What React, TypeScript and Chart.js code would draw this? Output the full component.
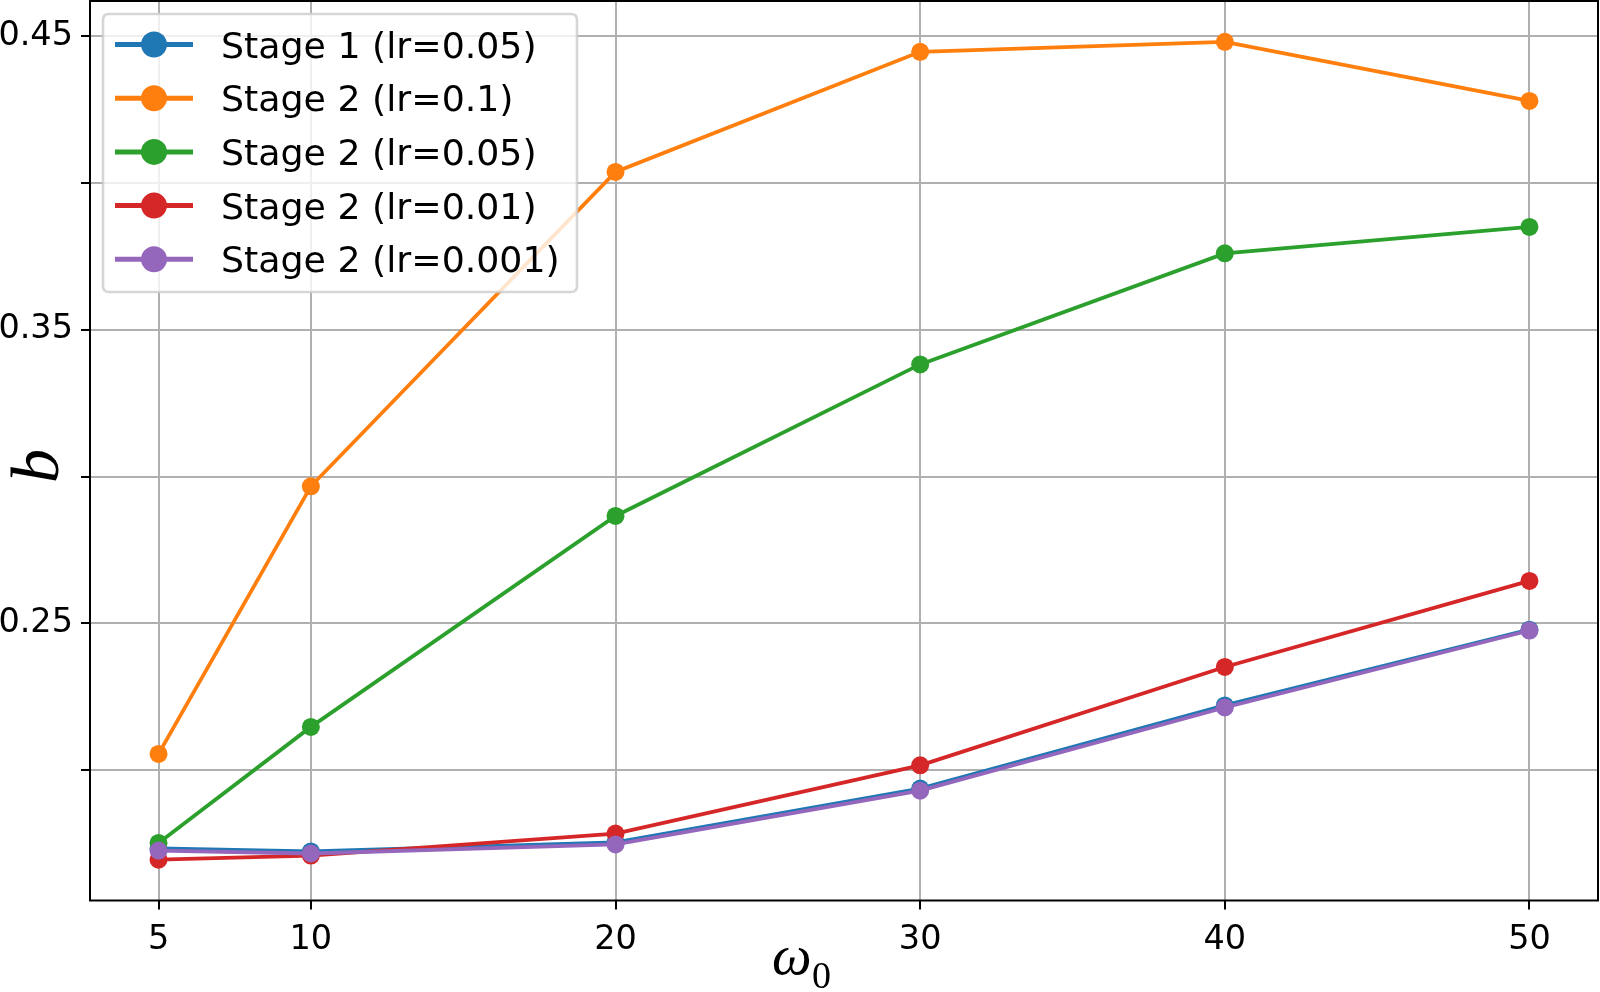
import React, { useEffect, useRef } from 'react';
import { Chart, registerables } from 'chart.js';

Chart.register(...registerables);

// ---- data ----
const omega0Values = [5, 10, 20, 30, 40, 50];
const seriesLabels = [
  'Stage 1 (lr=0.05)',
  'Stage 2 (lr=0.1)',
  'Stage 2 (lr=0.05)',
  'Stage 2 (lr=0.01)',
  'Stage 2 (lr=0.001)',
];
const stage1Lr005 = [0.1734, 0.1724, 0.1755, 0.1938, 0.2221, 0.2479];
const stage2Lr01 = [0.2056, 0.2967, 0.4037, 0.4446, 0.448, 0.4279];
const stage2Lr005 = [0.1753, 0.2148, 0.2866, 0.3382, 0.376, 0.385];
const stage2Lr001 = [0.1696, 0.171, 0.1785, 0.2017, 0.2352, 0.2645];
const stage2Lr0001 = [0.1727, 0.1717, 0.1748, 0.1931, 0.2214, 0.2476];
const seriesValues = [stage1Lr005, stage2Lr01, stage2Lr005, stage2Lr001, stage2Lr0001];
const seriesColors = ['#1f77b4', '#ff7f0e', '#2ca02c', '#d62728', '#9467bd'];

const xTicks = [5, 10, 20, 30, 40, 50];
const xTickLabels = ['5', '10', '20', '30', '40', '50'];
const yTicks = [0.2, 0.25, 0.3, 0.35, 0.4, 0.45];
const yTickLabels = ['', '0.25', '', '0.35', '', '0.45'];
const xLimits = [2.75, 52.25];
const yLimits = [0.1557, 0.4619];
const xTitleMain = 'ω';
const xTitleSub = '0';
const yTitle = 'b';

const SANS = '"DejaVu Sans", sans-serif';
const SERIF = '"Liberation Serif", "DejaVu Serif", serif';

const overlayPlugin = {
  id: 'overlay',
  afterDatasetsDraw(chart: any) {
    const { ctx, chartArea: a } = chart;
    ctx.save();
    ctx.strokeStyle = '#000';
    ctx.lineWidth = 2;
    ctx.strokeRect(a.left, a.top, a.right - a.left, a.bottom - a.top);
    ctx.restore();
  },
  afterDraw(chart: any) {
    const { ctx } = chart;
    ctx.save();
    // axis titles
    ctx.fillStyle = '#000';
    ctx.font = `italic 56px ${SERIF}`;
    ctx.textAlign = 'left';
    ctx.textBaseline = 'alphabetic';
    ctx.fillText(xTitleMain, 772, 974);
    ctx.font = `38px ${SERIF}`;
    ctx.fillText(xTitleSub, 812, 988);

    ctx.save();
    ctx.translate(58, 466);
    ctx.rotate(-Math.PI / 2);
    ctx.font = `italic 68px ${SERIF}`;
    ctx.textAlign = 'center';
    ctx.fillText(yTitle, 0, 0);
    ctx.restore();

    // legend
    const bx = 103, by = 14, bw = 474, bh = 278, r = 6;
    ctx.beginPath();
    ctx.moveTo(bx + r, by);
    ctx.lineTo(bx + bw - r, by);
    ctx.quadraticCurveTo(bx + bw, by, bx + bw, by + r);
    ctx.lineTo(bx + bw, by + bh - r);
    ctx.quadraticCurveTo(bx + bw, by + bh, bx + bw - r, by + bh);
    ctx.lineTo(bx + r, by + bh);
    ctx.quadraticCurveTo(bx, by + bh, bx, by + bh - r);
    ctx.lineTo(bx, by + r);
    ctx.quadraticCurveTo(bx, by, bx + r, by);
    ctx.closePath();
    ctx.fillStyle = 'rgba(255,255,255,0.8)';
    ctx.fill();
    ctx.strokeStyle = 'rgba(204,204,204,0.8)';
    ctx.lineWidth = 2.6;
    ctx.stroke();

    const datasets = chart.data.datasets;
    datasets.forEach((ds: any, i: number) => {
      const cy = 44.5 + i * 53.7;
      ctx.strokeStyle = ds.borderColor;
      ctx.lineWidth = 5;
      ctx.beginPath();
      ctx.moveTo(115, cy);
      ctx.lineTo(193, cy);
      ctx.stroke();
      ctx.fillStyle = ds.borderColor;
      ctx.beginPath();
      ctx.arc(154, cy, 13, 0, Math.PI * 2);
      ctx.fill();
      ctx.fillStyle = '#000';
      ctx.font = `36.3px ${SANS}`;
      ctx.textAlign = 'left';
      ctx.textBaseline = 'alphabetic';
      ctx.fillText(ds.label, 221, cy + 13);
    });
    ctx.restore();
  },
};

export default function App() {
  const canvasRef = useRef<HTMLCanvasElement | null>(null);

  useEffect(() => {
    const canvas = canvasRef.current;
    if (!canvas) return;
    const n = seriesLabels.length;
    const chart = new Chart(canvas, {
      type: 'line',
      data: {
        datasets: seriesLabels.map((label, i) => ({
          label,
          data: omega0Values.map((x, j) => ({ x, y: seriesValues[i][j] })),
          borderColor: seriesColors[i],
          backgroundColor: seriesColors[i],
          pointBackgroundColor: seriesColors[i],
          pointBorderColor: seriesColors[i],
          borderWidth: 3.8,
          pointRadius: 9,
          pointBorderWidth: 0,
          pointHoverRadius: 9,
          tension: 0,
          fill: false,
          clip: false,
          order: n - 1 - i,
        })),
      },
      options: {
        responsive: false,
        animation: false,
        devicePixelRatio: 1,
        layout: { autoPadding: false, padding: { top: 1, right: 2, left: 0, bottom: 0 } },
        plugins: {
          legend: { display: false },
          tooltip: { enabled: false },
          title: { display: false },
        },
        scales: {
          x: {
            type: 'linear',
            min: xLimits[0],
            max: xLimits[1],
            afterBuildTicks: (s: any) => {
              s.ticks = xTicks.map((v) => ({ value: v }));
            },
            afterFit: (s: any) => {
              s.height = 91.5;
              s.paddingLeft = 0;
              s.paddingRight = 0;
            },
            ticks: {
              autoSkip: false,
              maxRotation: 0,
              minRotation: 0,
              padding: 11,
              color: '#000',
              font: { family: SANS, size: 33.5 },
              callback: (_v: any, idx: number) => xTickLabels[idx],
            },
            grid: {
              color: '#b0b0b0',
              lineWidth: 2,
              tickColor: '#000',
              tickLength: 9,
              tickWidth: 2,
            },
            border: { display: false },
          },
          y: {
            type: 'linear',
            min: yLimits[0],
            max: yLimits[1],
            afterBuildTicks: (s: any) => {
              s.ticks = yTicks.map((v) => ({ value: v }));
            },
            afterFit: (s: any) => {
              s.width = 90;
              s.paddingTop = 0;
              s.paddingBottom = 0;
            },
            ticks: {
              autoSkip: false,
              padding: 8,
              color: '#000',
              font: { family: SANS, size: 33.5 },
              callback: (_v: any, idx: number) => yTickLabels[idx],
            },
            grid: {
              color: '#b0b0b0',
              lineWidth: 2,
              tickColor: '#000',
              tickLength: 9,
              tickWidth: 2,
            },
            border: { display: false },
          },
        },
      },
      plugins: [overlayPlugin],
    } as any);
    return () => chart.destroy();
  }, []);

  return (
    <div style={{ position: 'fixed', left: 0, top: 0, width: 1600, height: 992, background: '#fff' }}>
      <canvas ref={canvasRef} width={1600} height={992} style={{ width: 1600, height: 992, display: 'block' }} />
    </div>
  );
}
